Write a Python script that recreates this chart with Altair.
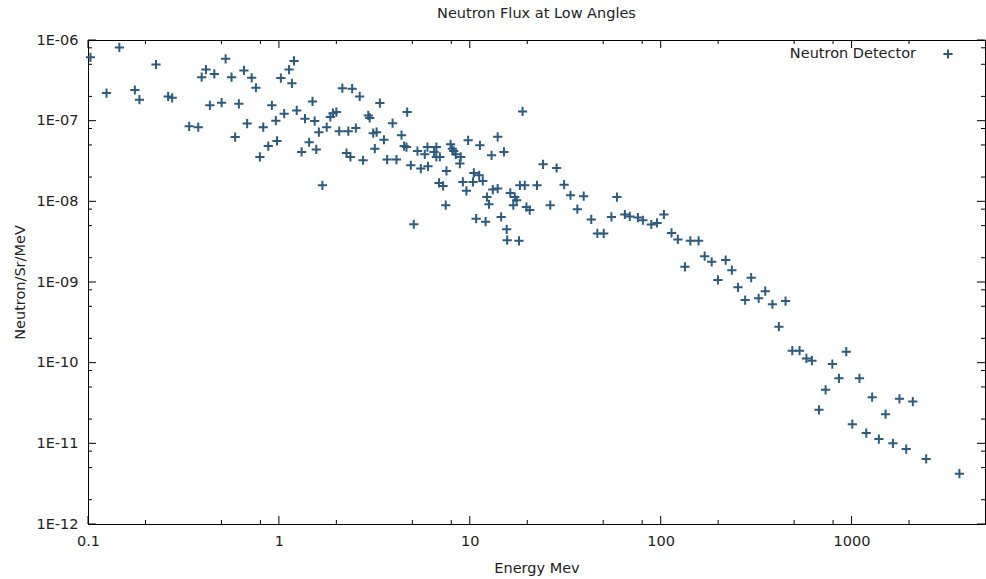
import altair as alt
import pandas as pd

# ---------------- data ----------------
energy = [
    0.103, 0.146, 0.125, 0.176, 0.186, 0.227, 0.263, 0.276, 0.339, 0.378,
    0.394, 0.415, 0.459, 0.435, 0.501, 0.526, 0.565, 0.590, 0.617, 0.656,
    0.682, 0.72, 0.758, 0.795, 0.828, 0.88, 0.919, 0.964, 0.977, 1.024,
    1.066, 1.13, 1.2, 1.17, 1.24, 1.315, 1.37, 1.44, 1.5, 1.54,
    1.57, 1.62, 1.69, 1.78, 1.86, 1.92, 2.0, 2.07, 2.15, 2.31,
    2.26, 2.37, 2.42, 2.53, 2.65, 2.76, 2.94, 2.99, 3.12, 3.25,
    3.18, 3.38, 3.55, 3.69, 4.13, 3.94, 4.39, 4.53, 4.66, 4.7,
    4.91, 5.32, 5.54, 5.81, 6.0, 6.04, 6.5, 6.68, 6.68, 6.97,
    7.55, 7.93, 8.1, 8.24, 8.45, 8.97, 8.87, 9.8, 9.2, 9.6,
    6.9, 7.25, 10.4, 10.5, 11.2, 11.7, 11.3, 12.3, 13.0, 13.2,
    14.0, 14.0, 15.1, 16.3, 17.2, 18.9, 18.3, 19.4, 22.5, 24.2,
    28.5, 31.2, 33.7, 39.5, 59.0,
    5.09, 7.48, 10.8, 12.1, 12.6, 14.6, 15.6, 15.7, 18.1, 17.6,
    16.9, 19.8, 20.6, 26.4, 36.6, 43.3, 46.6, 50.3, 55.2, 64.9,
    68.9, 76.0,
    80.7, 89.3, 95.7, 104, 114, 123, 134, 143, 158, 170,
    185, 199.5, 219, 236, 254, 277, 298, 326, 353, 385,
    416, 451, 489, 534, 580, 620, 793, 938, 859, 1100,
    731, 675, 1282, 1507, 1782, 2093, 1009, 1194, 1390, 1647,
    1933, 2460, 3673,
]
flux = [
    6.1e-7, 8.1e-7, 2.2e-7, 2.4e-7, 1.82e-7, 4.97e-7, 2.0e-7, 1.92e-7, 8.5e-8, 8.3e-8,
    3.46e-7, 4.3e-7, 3.8e-7, 1.55e-7, 1.67e-7, 5.85e-7, 3.46e-7, 6.27e-8, 1.62e-7, 4.2e-7,
    9.2e-8, 3.4e-7, 2.56e-7, 3.55e-8, 8.3e-8, 4.85e-8, 1.55e-7, 1.0e-7, 5.6e-8, 3.37e-7,
    1.22e-7, 4.3e-7, 5.5e-7, 2.9e-7, 1.34e-7, 4.1e-8, 1.06e-7, 5.4e-8, 1.73e-7, 9.9e-8,
    4.4e-8, 7.2e-8, 1.58e-8, 8.3e-8, 1.11e-7, 1.24e-7, 1.28e-7, 7.4e-8, 2.53e-7, 7.4e-8,
    3.97e-8, 3.55e-8, 2.49e-7, 8.1e-8, 2.0e-7, 3.23e-8, 1.16e-7, 1.08e-7, 7.0e-8, 7.2e-8,
    4.5e-8, 1.65e-7, 5.8e-8, 3.29e-8, 3.29e-8, 9.3e-8, 6.6e-8, 4.85e-8, 4.7e-8, 1.28e-7,
    2.8e-8, 4.2e-8, 2.55e-8, 3.83e-8, 4.7e-8, 2.72e-8, 4.1e-8, 4.7e-8, 3.55e-8, 3.55e-8,
    2.38e-8, 5.1e-8, 4.5e-8, 4.2e-8, 3.83e-8, 3.55e-8, 2.94e-8, 5.7e-8, 1.74e-8, 1.35e-8,
    1.69e-8, 1.55e-8, 1.74e-8, 2.25e-8, 2.1e-8, 1.79e-8, 4.95e-8, 1.13e-8, 3.72e-8, 1.4e-8,
    1.44e-8, 6.3e-8, 4.1e-8, 1.27e-8, 1.13e-8, 1.3e-7, 1.58e-8, 1.58e-8, 1.58e-8, 2.88e-8,
    2.59e-8, 1.61e-8, 1.19e-8, 1.16e-8, 1.13e-8,
    5.2e-9, 8.95e-9, 6.1e-9, 5.6e-9, 9.2e-9, 6.4e-9, 4.5e-9, 3.3e-9, 3.24e-9, 1.03e-8,
    8.95e-9, 8.5e-9, 7.8e-9, 8.95e-9, 8.0e-9, 5.96e-9, 4.0e-9, 4.0e-9, 6.4e-9, 6.87e-9,
    6.5e-9, 6.3e-9,
    5.83e-9, 5.16e-9, 5.4e-9, 6.87e-9, 4.06e-9, 3.37e-9, 1.54e-9, 3.24e-9, 3.24e-9, 2.09e-9,
    1.78e-9, 1.06e-9, 1.87e-9, 1.40e-9, 8.6e-10, 5.97e-10, 1.13e-9, 6.27e-10, 7.7e-10, 5.3e-10,
    2.79e-10, 5.8e-10, 1.41e-10, 1.41e-10, 1.13e-10, 1.06e-10, 9.6e-11, 1.37e-10, 6.4e-11, 6.4e-11,
    4.6e-11, 2.6e-11, 3.73e-11, 2.3e-11, 3.56e-11, 3.29e-11, 1.73e-11, 1.34e-11, 1.13e-11, 1.0e-11,
    8.5e-12, 6.4e-12, 4.2e-12,
]
x_major = [0.1, 1, 10, 100, 1000]
x_minor = [0.2, 0.5, 0.8, 2, 5, 8, 20, 50, 80, 200, 500, 800, 2000]
y_major = [1e-12, 1e-11, 1e-10, 1e-9, 1e-8, 1e-7, 1e-6]
y_minor = [2e-12, 5e-12, 8e-12, 2e-11, 5e-11, 8e-11, 2e-10, 5e-10, 8e-10,
           2e-9, 5e-9, 8e-9, 2e-8, 5e-8, 8e-8, 2e-7, 5e-7, 8e-7]
series_name = ["Neutron Detector"]
chart_title = ["Neutron Flux at Low Angles"]
x_title = "Energy Mev"
y_title = "Neutron/Sr/MeV"

# ---------------- styling ----------------
W, H = 897, 484
FONT = "DejaVu Sans"
FS = 14.5
TXT = "#222222"
COLOR = "#2d5b80"
PLUS = "M-1,0L1,0M0,-1L0,1"
MAJ, MIN = 8, 4

df = pd.DataFrame({"energy": energy, "flux": flux})
xscale = alt.Scale(type="log", domain=[0.1, 5000], nice=False)
yscale = alt.Scale(type="log", domain=[1e-12, 1e-6], nice=False)

xaxis = alt.Axis(values=x_major, format="~g", title=x_title,
                 ticks=False, domain=False, grid=False, labelFlush=False,
                 labelPadding=10, labelFont=FONT, labelFontSize=FS,
                 labelColor=TXT, titleFont=FONT, titleFontSize=FS,
                 titleFontWeight="normal", titleColor=TXT,
                 titleY=48, titleBaseline="alphabetic")
yaxis = alt.Axis(values=y_major,
                 labelExpr="'1E-' + (-round(log(datum.value)/LN10) < 10 ? '0' : '') + (-round(log(datum.value)/LN10))",
                 title=y_title, ticks=False, domain=False, grid=False,
                 labelPadding=10, labelFont=FONT, labelFontSize=FS,
                 labelColor=TXT, titleFont=FONT, titleFontSize=FS,
                 titleFontWeight="normal", titleColor=TXT,
                 titleAngle=-90, titleX=-64, titleY=H / 2,
                 titleAlign="center", titleBaseline="alphabetic")

points = alt.Chart(df).mark_point(
    shape=PLUS, filled=False, size=85, strokeWidth=2, color=COLOR, opacity=1
).encode(
    x=alt.X("energy:Q", scale=xscale, axis=xaxis),
    y=alt.Y("flux:Q", scale=yscale, axis=yaxis),
)


def tick_layer(vals, side, length):
    d = pd.DataFrame({"v": vals})
    base = alt.Chart(d).mark_rule(color="black", strokeWidth=1)
    if side == "bottom":
        return base.encode(x=alt.X("v:Q", scale=xscale, axis=xaxis),
                           y=alt.value(H), y2=alt.value(H - length))
    if side == "top":
        return base.encode(x=alt.X("v:Q", scale=xscale, axis=xaxis),
                           y=alt.value(0), y2=alt.value(length))
    if side == "left":
        return base.encode(y=alt.Y("v:Q", scale=yscale, axis=yaxis),
                           x=alt.value(0), x2=alt.value(length))
    return base.encode(y=alt.Y("v:Q", scale=yscale, axis=yaxis),
                       x=alt.value(W), x2=alt.value(W - length))


ticks = [
    tick_layer(x_major, "bottom", MAJ), tick_layer(x_minor, "bottom", MIN),
    tick_layer(x_major, "top", MAJ), tick_layer(x_minor, "top", MIN),
    tick_layer(y_major, "left", MAJ), tick_layer(y_minor, "left", MIN),
    tick_layer(y_major, "right", MAJ), tick_layer(y_minor, "right", MIN),
]

leg_df = pd.DataFrame({"label": series_name})
leg_text = alt.Chart(leg_df).mark_text(
    align="right", baseline="middle", font=FONT, fontSize=FS, color=TXT
).encode(x=alt.value(828), y=alt.value(14), text="label:N")
leg_pt = alt.Chart(leg_df).mark_point(
    shape=PLUS, filled=False, size=85, strokeWidth=2, color=COLOR, opacity=1
).encode(x=alt.value(860), y=alt.value(14))

title_df = pd.DataFrame({"t": chart_title})
title_text = alt.Chart(title_df).mark_text(
    align="center", baseline="alphabetic", font=FONT, fontSize=FS, color=TXT
).encode(x=alt.value(W / 2), y=alt.value(-22), text="t:N")

chart = alt.layer(points, *ticks, leg_text, leg_pt, title_text).properties(
    width=W, height=H,
    autosize=alt.AutoSizeParams(type="none"),
    padding={"left": 88, "top": 40, "right": 1, "bottom": 55},
    background="white",
).configure_view(stroke="black", strokeWidth=1)

chart.save("out.html", embed_options={"renderer": "svg", "actions": False})
